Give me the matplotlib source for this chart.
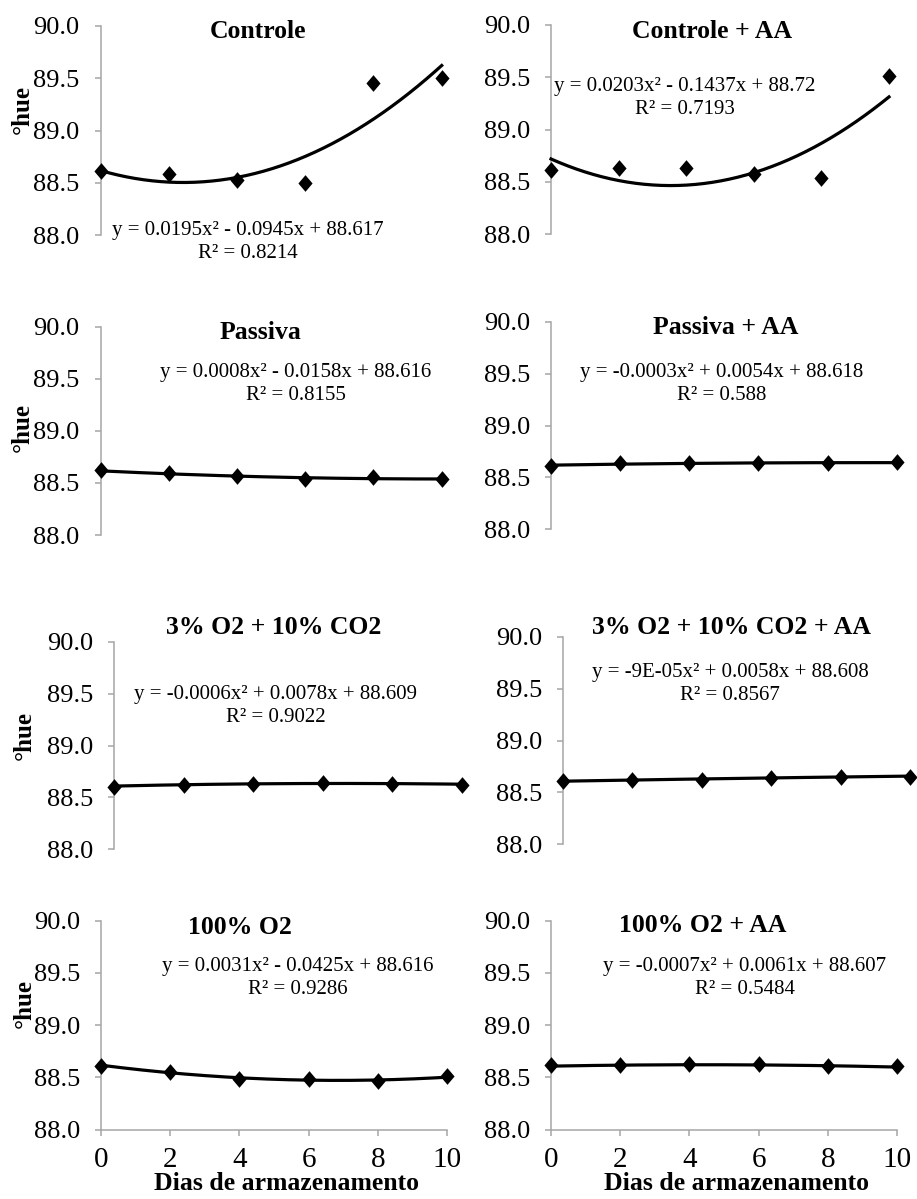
import matplotlib
matplotlib.use("Agg")
import matplotlib.pyplot as plt
import numpy as np
from matplotlib.path import Path

SERIF = ["Liberation Serif", "DejaVu Serif"]
plt.rcParams["font.family"] = SERIF

# Storage days and measured hue angle for each treatment
dias = [0, 2, 4, 6, 8, 10]
hue_controle = [88.61, 88.58, 88.53, 88.50, 89.45, 89.50]
hue_controle_aa = [88.61, 88.63, 88.63, 88.58, 88.54, 89.51]
hue_passiva = [88.62, 88.60, 88.57, 88.54, 88.56, 88.54]
hue_passiva_aa = [88.61, 88.64, 88.64, 88.635, 88.64, 88.65]
hue_3o2 = [88.60, 88.62, 88.63, 88.635, 88.63, 88.62]
hue_3o2_aa = [88.61, 88.62, 88.62, 88.635, 88.65, 88.65]
hue_100o2 = [88.61, 88.555, 88.485, 88.485, 88.46, 88.51]
hue_100o2_aa = [88.62, 88.62, 88.625, 88.63, 88.605, 88.605]

titles = ["Controle", "Controle + AA", "Passiva", "Passiva + AA",
          "3% O2 + 10% CO2", "3% O2 + 10% CO2 + AA", "100% O2", "100% O2 + AA"]
series = [hue_controle, hue_controle_aa, hue_passiva, hue_passiva_aa,
          hue_3o2, hue_3o2_aa, hue_100o2, hue_100o2_aa]

# Quadratic trend coefficients (a, b, c) for y = a x^2 + b x + c
coef_a = [0.0195, 0.0203, 0.0008, -0.0003, -0.0006, -9e-05, 0.0031, -0.0007]
coef_b = [-0.0945, -0.1437, -0.0158, 0.0054, 0.0078, 0.0058, -0.0425, 0.0061]
coef_c = [88.617, 88.72, 88.616, 88.618, 88.609, 88.608, 88.616, 88.607]
equations = ["y = 0.0195x² - 0.0945x + 88.617",
             "y = 0.0203x² - 0.1437x + 88.72",
             "y = 0.0008x² - 0.0158x + 88.616",
             "y = -0.0003x² + 0.0054x + 88.618",
             "y = -0.0006x² + 0.0078x + 88.609",
             "y = -9E-05x² + 0.0058x + 88.608",
             "y = 0.0031x² - 0.0425x + 88.616",
             "y = -0.0007x² + 0.0061x + 88.607"]
r2_labels = ["R² = 0.8214", "R² = 0.7193", "R² = 0.8155", "R² = 0.588",
             "R² = 0.9022", "R² = 0.8567", "R² = 0.9286", "R² = 0.5484"]

y_ticks = [88.0, 88.5, 89.0, 89.5, 90.0]
x_ticks = [0, 2, 4, 6, 8, 10]

W, H = 917, 1199
fig = plt.figure(figsize=(W / 100, H / 100), dpi=100)

# Panel frames in pixels: x at day 0, x at day 10, y at 90.0, y at 88.0
frames = [(100.5, 441.7, 26.0, 235.0), (551.0, 889.0, 25.0, 234.3),
          (100.5, 441.7, 326.7, 535.0), (551.0, 896.7, 321.7, 529.3),
          (114.3, 462.0, 641.7, 849.3), (563.0, 910.0, 636.7, 844.3),
          (101.0, 447.0, 920.7, 1129.5), (551.0, 897.0, 920.7, 1129.5)]
title_pos = [(258, 32), (712, 32), (260, 332), (726, 328),
             (274, 628), (732, 627), (240, 927), (703, 926)]
eq_pos = [(248, 230), (685, 87), (296, 372), (722, 372),
          (276, 695), (730, 673), (298, 967), (745, 966)]
ylabel_pos = [(22, 109), (22, 428), (24, 735), (24, 1003)]

diamond = Path([(0, 1), (0.85, 0), (0, -1), (-0.85, 0), (0, 1)],
               [Path.MOVETO, Path.LINETO, Path.LINETO, Path.LINETO, Path.CLOSEPOLY])

spine_color = "#a6a6a6"


def fx(px):
    return px / W


def fy(py):
    return 1 - py / H


for i in range(8):
    x0, x10, y90, y88 = frames[i]
    ax = fig.add_axes([fx(x0), fy(y88), (x10 - x0) / W, (y88 - y90) / H])
    ax.set_xlim(0, 10)
    ax.set_ylim(88.0, 90.0)

    xs = np.linspace(0, 10, 200)
    ys = coef_a[i] * xs ** 2 + coef_b[i] * xs + coef_c[i]
    ax.plot(xs, ys, color="black", lw=2.3, clip_on=False, zorder=3)
    ax.plot(dias, series[i], linestyle="none", marker=diamond, ms=12,
            color="black", mec="black", mew=0, clip_on=False, zorder=4)

    for s in ("top", "right"):
        ax.spines[s].set_visible(False)
    ax.spines["left"].set_color(spine_color)
    ax.spines["left"].set_linewidth(1.1)
    ax.set_yticks(y_ticks)
    ax.set_yticklabels([f"{v:.1f}" for v in y_ticks], fontfamily=SERIF, fontsize=19)
    ax.tick_params(axis="y", direction="out", length=4, width=1.1,
                   color=spine_color, pad=11, labelcolor="black")

    if i >= 6:
        ax.spines["bottom"].set_color(spine_color)
        ax.spines["bottom"].set_linewidth(1.1)
        ax.set_xticks(x_ticks)
        ax.set_xticklabels([str(v) for v in x_ticks], fontfamily=SERIF, fontsize=21)
        ax.tick_params(axis="x", direction="out", length=4.5, width=1.1,
                       color=spine_color, pad=8, labelcolor="black")
        fig.text(fx((x0 + x10) / 2 + 12), fy(1190), "Dias de armazenamento",
                 ha="center", va="baseline", fontsize=18.5, fontweight="bold",
                 fontfamily=SERIF)
    else:
        ax.spines["bottom"].set_visible(False)
        ax.set_xticks([])

    tx, ty = title_pos[i]
    fig.text(fx(tx), fy(ty), titles[i], ha="center", va="center",
             fontsize=18.5, fontweight="bold", fontfamily=SERIF)
    ex, ey = eq_pos[i]
    fig.text(fx(ex), fy(ey), equations[i], ha="center", va="center",
             fontsize=15, fontfamily=SERIF)
    fig.text(fx(ex), fy(ey + 23), r2_labels[i], ha="center", va="center",
             fontsize=15, fontfamily=SERIF)

for lx, ly in ylabel_pos:
    fig.text(fx(lx), fy(ly), "°hue", rotation=90, ha="center", va="center",
             fontsize=18, fontweight="bold", fontfamily=SERIF)

fig.savefig("out.png", dpi=100, facecolor="white")
